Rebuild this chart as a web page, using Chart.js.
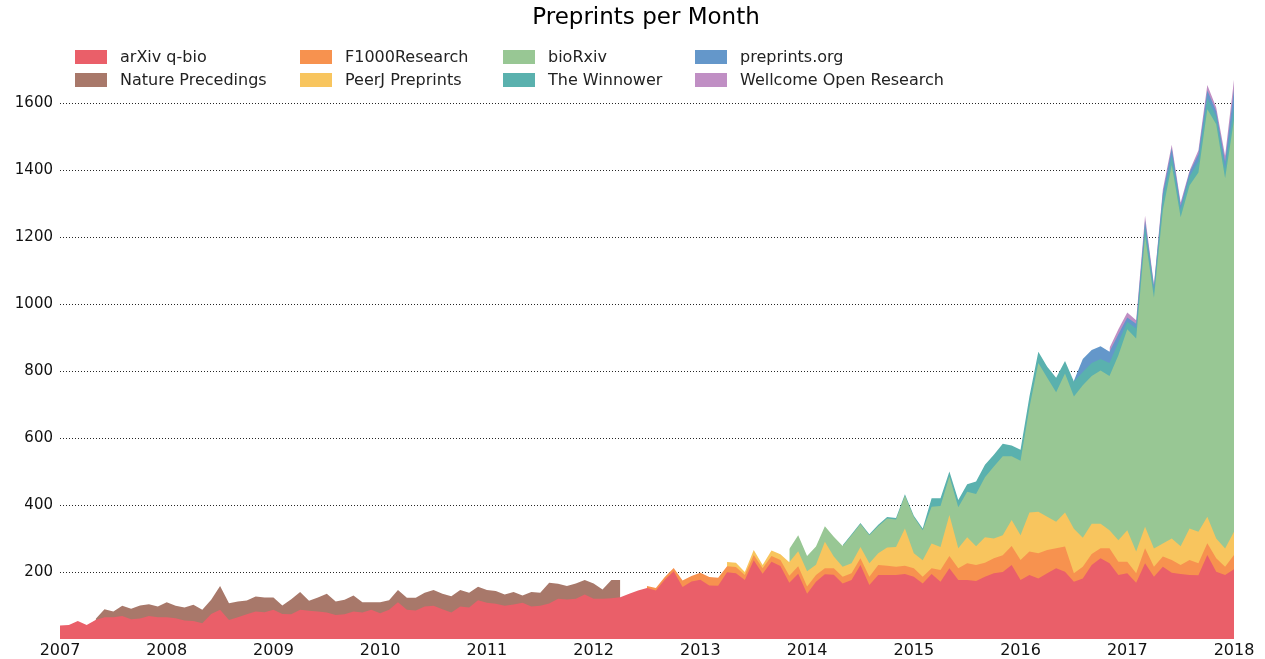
<!DOCTYPE html>
<html>
<head>
<meta charset="utf-8">
<script src="https://cdn.jsdelivr.net/npm/chart.js@4.4.1/dist/chart.umd.min.js"></script>
<style>
html,body{margin:0;padding:0;background:#fff;}
#wrap{width:1265px;height:659px;position:relative;}
</style>
</head>
<body>
<div id="wrap"><canvas id="c" width="1265" height="659"></canvas></div>
<script>
// ---------- categories ----------
const months = [];
for (let y = 2007; y <= 2018; y++) {
  for (let m = 1; m <= 12; m++) {
    if (y === 2018 && m > 1) break;
    months.push(y + '-' + String(m).padStart(2, '0'));
  }
}
const yearTicks = ['2007','2008','2009','2010','2011','2012','2013','2014','2015','2016','2017','2018'];
const yTicks = [200, 400, 600, 800, 1000, 1200, 1400, 1600];
const chartTitle = 'Preprints per Month';
const seriesNames = ['arXiv q-bio','Nature Precedings','F1000Research','PeerJ Preprints','bioRxiv','The Winnower','preprints.org','Wellcome Open Research'];

const N = null;
function nulls(k){ return Array(k).fill(N); }

// ---------- series values (monthly, 2007-01 .. 2018-01) ----------
const arxivQbio = [
  40, 42, 54, 42, 57, 65, 65, 69, 59, 61,
  69, 65, 65, 62, 55, 54, 47, 75, 87, 57,
  65, 74, 82, 80, 87, 75, 74, 87, 84, 82,
  79, 72, 74, 82, 79, 87, 77, 87, 110, 87,
  85, 97, 99, 89, 79, 97, 94, 116, 108, 105,
  99, 103, 108, 97, 99, 106, 120, 118, 120, 133,
  120, 120, 122, 125, 135, 145, 152, 145, 177, 202,
  155, 172, 177, 160, 159, 199, 196, 176, 235, 195,
  231, 218, 168, 195, 135, 171, 193, 192, 166, 176,
  221, 161, 191, 191, 191, 194, 186, 166, 194, 171,
  211, 176, 176, 173, 186, 196, 200, 221, 176, 191,
  181, 196, 211, 201, 171, 181, 221, 241, 226, 191,
  196, 168, 226, 186, 216, 198, 194, 191, 190, 251,
  201, 191, 208
];
const naturePrecedings = [].concat(nulls(4), [
  3, 24, 17, 30, 31, 39, 35, 32, 45, 37,
  39, 48, 40, 42, 71, 50, 47, 41, 45, 44,
  37, 25, 45, 53, 30, 42, 56, 40, 43, 48,
  31, 23, 33, 29, 36, 36, 38, 41, 47, 46,
  49, 49, 44, 40, 38, 38, 34, 37, 22, 43,
  39, 62, 45, 40, 46, 43, 46, 28, 54, 51
], nulls(69));
const f1000Research = [].concat(nulls(66), [
  6, 7, 8, 10, 20, 16, 21, 25, 24,
  18, 19, 15, 16, 16, 17, 18, 21, 22, 22,
  20, 18, 19, 20, 20, 20, 25, 30, 28, 25,
  25, 25, 20, 17, 35, 37, 35, 50, 48, 42, 45,
  50, 57, 60, 70, 75, 70, 60, 75, 25, 35,
  33, 30, 45, 40, 35, 28, 45, 30, 30, 38,
  27, 45, 36, 35, 40, 25, 43
]);
const peerjPreprints = [].concat(nulls(75), [
  13, 13, 9, 15, 10, 16, 17, 40, 45, 45,
  31, 79, 35, 30, 30, 34, 40, 35, 54, 59,
  111, 45, 49, 74, 69, 122, 60, 78, 56, 76,
  59, 60, 77, 74, 117, 124, 99, 79, 102, 133,
  86, 90, 73, 54, 64, 94, 65, 64, 54, 39,
  64, 56, 94, 94, 79, 59, 54, 69
]);
const bioRxiv = [].concat(nulls(82), [
  40, 48, 46, 54, 47, 59, 62, 84, 68, 84,
  81, 87, 82, 98, 108, 90, 110, 122, 115, 122,
  136, 156, 179, 215, 236, 191, 222, 313, 444, 415,
  387, 415, 395, 456, 441, 458, 460, 552, 600, 636,
  868, 749, 996, 1115, 982, 1024, 1073, 1217, 1237, 1106, 1230
]);
const theWinnower = [].concat(nulls(88), [
  2, 3, 3, 3, 4, 4, 4, 4, 4, 5,
  25, 23, 15, 22, 22, 37, 37, 35, 37, 32,
  33, 33, 34, 33, 43, 37, 45, 39, 39, 34,
  39, 39, 22, 30, 28, 23, 34, 28, 22, 27,
  33, 33, 23, 28, 40
]);
const preprintsOrg = [].concat(nulls(114), [
  2, 39, 39, 38, 34, 24, 13, 14, 17, 11,
  16, 22, 13, 12, 22, 23, 16, 22, 50
]);
const wellcomeOpenResearch = [].concat(nulls(118), [
  11, 15, 15, 11, 16, 5, 11, 11, 9, 5,
  11, 16, 11, 17, 30
]);

const seriesValues = [arxivQbio, naturePrecedings, f1000Research, peerjPreprints, bioRxiv, theWinnower, preprintsOrg, wellcomeOpenResearch];
const seriesColors = ['#EA5F69', '#A8786A', '#F7924F', '#F8C55E', '#98C794', '#5AB1AE', '#6497CA', '#C08FC4'];

const datasets = seriesNames.map((name, k) => ({
  label: name,
  data: seriesValues[k],
  backgroundColor: seriesColors[k],
  borderColor: 'rgba(0,0,0,0)',
  borderWidth: 0,
  pointRadius: 0,
  fill: 'origin',
  tension: 0,
  spanGaps: false
}));

const FONT = '"DejaVu Sans", "Liberation Sans", sans-serif';

const headerPlugin = {
  id: 'header',
  afterDraw(chart) {
    const ctx = chart.ctx;
    ctx.save();
    ctx.fillStyle = '#000';
    ctx.font = '23px ' + FONT;
    ctx.textAlign = 'center';
    ctx.textBaseline = 'middle';
    ctx.fillText(chartTitle, 646, 18);
    const colX = [75, 300, 503, 695];
    const rowY = [57, 80];
    ctx.font = '16px ' + FONT;
    ctx.textAlign = 'left';
    chart.data.datasets.forEach((ds, k) => {
      const col = Math.floor(k / 2), row = k % 2;
      const sx = colX[col], sy = rowY[row];
      ctx.fillStyle = ds.backgroundColor;
      ctx.fillRect(sx, sy - 7, 32, 14);
      ctx.fillStyle = '#222';
      ctx.fillText(ds.label, sx + 45, sy + 1);
    });
    ctx.restore();
  }
};

new Chart(document.getElementById('c'), {
  type: 'line',
  data: { labels: months, datasets },
  plugins: [headerPlugin],
  options: {
    responsive: false,
    animation: false,
    layout: { padding: { top: 78, right: 31, left: 0, bottom: 0 } },
    plugins: {
      legend: { display: false },
      title: { display: false },
      tooltip: { enabled: false },
      filler: { propagate: false }
    },
    elements: { point: { radius: 0 }, line: { tension: 0 } },
    scales: {
      x: {
        type: 'category',
        offset: false,
        grid: { display: false, drawTicks: false },
        border: { display: false },
        ticks: {
          autoSkip: false,
          maxRotation: 0,
          minRotation: 0,
          padding: 2,
          color: '#111',
          font: { family: FONT, size: 16 },
          callback(v, i) {
            const lab = months[i];
            if (lab && lab.endsWith('-01')) {
              const idx = yearTicks.indexOf(lab.slice(0, 4));
              return idx >= 0 ? yearTicks[idx] : '';
            }
            return '';
          }
        },
        afterFit(s) { s.height = 20; }
      },
      y: {
        stacked: true,
        min: 0,
        max: 1675,
        afterBuildTicks(s) { s.ticks = yTicks.map(v => ({ value: v })); },
        afterFit(s) { s.width = 60; },
        grid: { color: 'rgba(0,0,0,0.85)', lineWidth: 1, drawTicks: false },
        border: { display: false, dash: [1, 2] },
        ticks: {
          padding: 7,
          color: '#111',
          font: { family: FONT, size: 15 },
          callback(v) { return String(v); }
        }
      }
    }
  }
});
</script>
</body>
</html>
